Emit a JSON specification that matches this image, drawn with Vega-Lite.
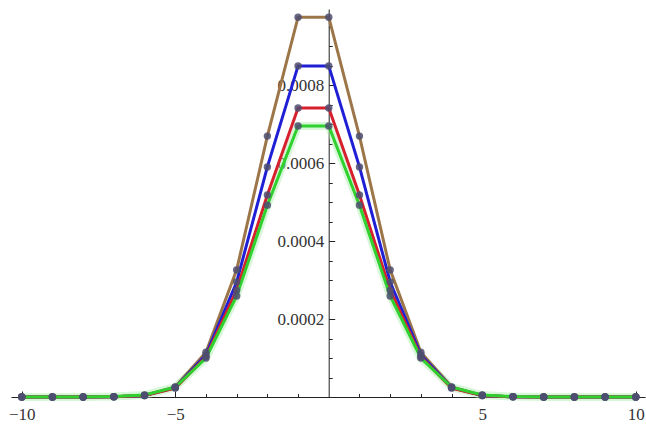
{
  "$schema": "https://vega.github.io/schema/vega-lite/v6.json",
  "autosize": "none",
  "width": 634,
  "height": 388,
  "padding": {"left": 11, "top": 9, "right": 1, "bottom": 27},
  "background": "white",
  "config": {
    "view": {"stroke": null},
    "axis": {"grid": false, "domainColor": "#222222", "tickColor": "#222222", "labelColor": "#333333", "labelFont": "Liberation Serif", "labelFontSize": 17, "title": null}
  },
  "data": {
    "values": [
      {"s": "A", "x": -10, "y": 0}, {"s": "A", "x": -9, "y": 0}, {"s": "A", "x": -8, "y": 0}, {"s": "A", "x": -7, "y": 0.0000005},
      {"s": "A", "x": -6, "y": 0.000004}, {"s": "A", "x": -5, "y": 0.000026}, {"s": "A", "x": -4, "y": 0.000115}, {"s": "A", "x": -3, "y": 0.000326},
      {"s": "A", "x": -2, "y": 0.000669}, {"s": "A", "x": -1, "y": 0.000974}, {"s": "A", "x": 0, "y": 0.000974}, {"s": "A", "x": 1, "y": 0.000669},
      {"s": "A", "x": 2, "y": 0.000326}, {"s": "A", "x": 3, "y": 0.000115}, {"s": "A", "x": 4, "y": 0.000026}, {"s": "A", "x": 5, "y": 0.000004},
      {"s": "A", "x": 6, "y": 0.0000005}, {"s": "A", "x": 7, "y": 0}, {"s": "A", "x": 8, "y": 0}, {"s": "A", "x": 9, "y": 0}, {"s": "A", "x": 10, "y": 0},

      {"s": "B", "x": -10, "y": 0}, {"s": "B", "x": -9, "y": 0}, {"s": "B", "x": -8, "y": 0}, {"s": "B", "x": -7, "y": 0.0000005},
      {"s": "B", "x": -6, "y": 0.000004}, {"s": "B", "x": -5, "y": 0.000024}, {"s": "B", "x": -4, "y": 0.000108}, {"s": "B", "x": -3, "y": 0.000295},
      {"s": "B", "x": -2, "y": 0.00059}, {"s": "B", "x": -1, "y": 0.000849}, {"s": "B", "x": 0, "y": 0.000849}, {"s": "B", "x": 1, "y": 0.00059},
      {"s": "B", "x": 2, "y": 0.000295}, {"s": "B", "x": 3, "y": 0.000108}, {"s": "B", "x": 4, "y": 0.000024}, {"s": "B", "x": 5, "y": 0.000004},
      {"s": "B", "x": 6, "y": 0.0000005}, {"s": "B", "x": 7, "y": 0}, {"s": "B", "x": 8, "y": 0}, {"s": "B", "x": 9, "y": 0}, {"s": "B", "x": 10, "y": 0},

      {"s": "C", "x": -10, "y": 0}, {"s": "C", "x": -9, "y": 0}, {"s": "C", "x": -8, "y": 0}, {"s": "C", "x": -7, "y": 0.0000005},
      {"s": "C", "x": -6, "y": 0.000004}, {"s": "C", "x": -5, "y": 0.000023}, {"s": "C", "x": -4, "y": 0.000103}, {"s": "C", "x": -3, "y": 0.000274},
      {"s": "C", "x": -2, "y": 0.000518}, {"s": "C", "x": -1, "y": 0.000741}, {"s": "C", "x": 0, "y": 0.000741}, {"s": "C", "x": 1, "y": 0.000518},
      {"s": "C", "x": 2, "y": 0.000274}, {"s": "C", "x": 3, "y": 0.000103}, {"s": "C", "x": 4, "y": 0.000023}, {"s": "C", "x": 5, "y": 0.000004},
      {"s": "C", "x": 6, "y": 0.0000005}, {"s": "C", "x": 7, "y": 0}, {"s": "C", "x": 8, "y": 0}, {"s": "C", "x": 9, "y": 0}, {"s": "C", "x": 10, "y": 0},

      {"s": "D", "x": -10, "y": 0}, {"s": "D", "x": -9, "y": 0}, {"s": "D", "x": -8, "y": 0}, {"s": "D", "x": -7, "y": 0.000001},
      {"s": "D", "x": -6, "y": 0.000005}, {"s": "D", "x": -5, "y": 0.000025}, {"s": "D", "x": -4, "y": 0.0001}, {"s": "D", "x": -3, "y": 0.000259},
      {"s": "D", "x": -2, "y": 0.000492}, {"s": "D", "x": -1, "y": 0.000695}, {"s": "D", "x": 0, "y": 0.000695}, {"s": "D", "x": 1, "y": 0.000492},
      {"s": "D", "x": 2, "y": 0.000259}, {"s": "D", "x": 3, "y": 0.0001}, {"s": "D", "x": 4, "y": 0.000025}, {"s": "D", "x": 5, "y": 0.000005},
      {"s": "D", "x": 6, "y": 0.000001}, {"s": "D", "x": 7, "y": 0}, {"s": "D", "x": 8, "y": 0}, {"s": "D", "x": 9, "y": 0}, {"s": "D", "x": 10, "y": 0}
    ]
  },
  "layer": [
    {
      "transform": [{"filter": "datum.s === 'D'"}],
      "mark": {"type": "line", "strokeWidth": 8, "color": "#a8eca8", "opacity": 0.45},
      "encoding": {
        "x": {"field": "x", "type": "quantitative",
          "scale": {"domain": [-10.35, 10.3], "nice": false, "zero": false},
          "axis": {"orient": "bottom", "values": [-10, -5, 5, 10], "tickSize": -6, "labelFlush": false, "labelPadding": 15}},
        "y": {"field": "y", "type": "quantitative",
          "scale": {"domain": [0, 0.000995], "nice": false},
          "axis": {"orient": "left", "offset": -317.7, "values": [0.0002, 0.0004, 0.0006, 0.0008], "format": ".4f", "tickSize": -6, "labelPadding": 11}}
      }
    },
    {
      "mark": {"type": "line", "strokeWidth": 3},
      "encoding": {
        "x": {"field": "x", "type": "quantitative", "axis": null},
        "y": {"field": "y", "type": "quantitative", "axis": null},
        "color": {"field": "s", "type": "nominal", "legend": null,
          "scale": {"domain": ["A", "B", "C", "D"], "range": ["#9c7648", "#1f1fd6", "#d6202e", "#2fd12f"]}}
      }
    },
    {
      "mark": {"type": "circle", "size": 55, "opacity": 0.85},
      "encoding": {
        "x": {"field": "x", "type": "quantitative",
          "axis": {"orient": "bottom", "values": [-9, -8, -7, -6, -4, -3, -2, -1, 1, 2, 3, 4, 6, 7, 8, 9], "labels": false, "tickSize": -3.5, "domain": false}},
        "y": {"field": "y", "type": "quantitative",
          "axis": {"orient": "left", "offset": -317.7, "values": [0.00005, 0.0001, 0.00015, 0.00025, 0.0003, 0.00035, 0.00045, 0.0005, 0.00055, 0.00065, 0.0007, 0.00075, 0.00085, 0.0009, 0.00095], "labels": false, "tickSize": -3.5, "domain": false}},
        "color": {"value": "#4d4d70"}
      }
    }
  ],
  "resolve": {"axis": {"x": "independent", "y": "independent"}}
}
